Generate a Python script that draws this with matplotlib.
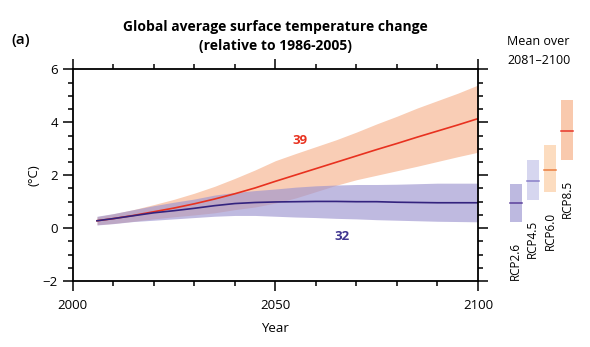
import matplotlib
matplotlib.use('Agg')
import matplotlib.pyplot as plt
from matplotlib.ticker import MultipleLocator

plt.rcParams['font.family'] = ['Open Sans', 'DejaVu Sans']

# time series (5-year reads off the chart)
years = [2006, 2010, 2015, 2020, 2025, 2030, 2035, 2040, 2045, 2050,
         2055, 2060, 2065, 2070, 2075, 2080, 2085, 2090, 2095, 2100]

rcp85_mean = [0.28, 0.36, 0.48, 0.62, 0.76, 0.92, 1.10, 1.30, 1.52, 1.77,
              2.01, 2.25, 2.49, 2.73, 2.97, 3.20, 3.44, 3.67, 3.90, 4.14]
rcp85_hi = [0.43, 0.54, 0.70, 0.89, 1.09, 1.32, 1.58, 1.88, 2.20, 2.55,
            2.82, 3.08, 3.34, 3.63, 3.94, 4.23, 4.54, 4.82, 5.10, 5.41]
rcp85_lo = [0.13, 0.18, 0.26, 0.35, 0.43, 0.50, 0.58, 0.70, 0.80, 0.95,
            1.14, 1.38, 1.62, 1.83, 2.00, 2.17, 2.34, 2.52, 2.70, 2.87]

rcp26_mean = [0.28, 0.36, 0.47, 0.58, 0.66, 0.75, 0.85, 0.93, 0.97, 0.99,
              1.00, 1.01, 1.01, 1.00, 1.00, 0.98, 0.97, 0.96, 0.96, 0.96]
rcp26_hi = [0.45, 0.55, 0.70, 0.85, 0.98, 1.10, 1.25, 1.35, 1.42, 1.48,
            1.55, 1.60, 1.63, 1.65, 1.65, 1.66, 1.68, 1.70, 1.70, 1.70]
rcp26_lo = [0.12, 0.17, 0.25, 0.30, 0.35, 0.40, 0.45, 0.48, 0.48, 0.45,
            0.42, 0.40, 0.37, 0.35, 0.32, 0.30, 0.28, 0.26, 0.25, 0.24]

# mean over 2081-2100
scenarios = ['RCP2.6', 'RCP4.5', 'RCP6.0', 'RCP8.5']
end_mean = [0.95, 1.8, 2.2, 3.67]
end_lo = [0.25, 1.07, 1.37, 2.57]
end_hi = [1.68, 2.59, 3.13, 4.83]
box_colors = ['#bdb9e0', '#d6d6ef', '#fcdcbf', '#f9c9ad']
mean_colors = ['#5b3f9b', '#8a7fc8', '#ea7d40', '#e8362a']

red = '#e8311f'
navy = '#33237e'

fig = plt.figure(figsize=(5.9, 3.47), dpi=100)
ax = fig.add_axes([0.1232, 0.190, 0.687, 0.610])

ax.fill_between(years, rcp85_lo, rcp85_hi, color='#f9cdb5', lw=0)
ax.fill_between(years, rcp26_lo, rcp26_hi, color='#9c93cf', alpha=0.64, lw=0)
ax.plot(years, rcp85_mean, color=red, lw=1.2)
ax.plot(years, rcp26_mean, color=navy, lw=1.2)

ax.text(2056, 3.3, '39', color=red, fontsize=9.5, fontweight='bold', ha='center', va='center')
ax.text(2066.5, -0.3, '32', color='#3f3590', fontsize=9.5, fontweight='bold', ha='center', va='center')

ax.set_xlim(2000, 2100)
ax.set_ylim(-2, 6)
ax.xaxis.set_major_locator(MultipleLocator(50))
ax.xaxis.set_minor_locator(MultipleLocator(10))
ax.yaxis.set_major_locator(MultipleLocator(2))
ax.yaxis.set_minor_locator(MultipleLocator(0.5))
ax.tick_params(which='both', direction='out', top=True, right=True, labelsize=9.5, width=1.1)
ax.tick_params(which='major', length=7)
ax.tick_params(which='minor', length=3.5)
ax.tick_params(axis='x', which='major', pad=6)
for s in ax.spines.values():
    s.set_linewidth(1.3)
ax.set_xlabel('Year', fontsize=9.5, labelpad=7)
ax.set_ylabel('(°C)', fontsize=9.5, labelpad=2)
ax.set_title('Global average surface temperature change\n(relative to 1986-2005)',
             fontsize=10, fontweight='bold', pad=14, linespacing=1.45)

fig.text(0.02, 0.885, '(a)', fontsize=11, fontweight='semibold', va='center')
fig.text(0.86, 0.807, 'Mean over\n2081\u20132100', fontsize=9, va='bottom', linespacing=1.55)

# right-hand panel with end-of-century ranges
ax2 = fig.add_axes([0.847, 0.190, 0.153, 0.610])
ax2.set_xlim(-0.94, 4.35)
ax2.set_ylim(-2, 6)
ax2.axis('off')
for i in range(len(scenarios)):
    ax2.bar(i, end_hi[i] - end_lo[i], bottom=end_lo[i], width=0.7,
            color=box_colors[i], lw=0)
    ax2.plot([i - 0.35, i + 0.35], [end_mean[i], end_mean[i]],
             color=mean_colors[i], lw=1.1)
    ax2.text(i, end_lo[i] - 0.75, scenarios[i], rotation=90, fontsize=8.5,
             ha='center', va='top')

fig.savefig('out.png', dpi=100)
